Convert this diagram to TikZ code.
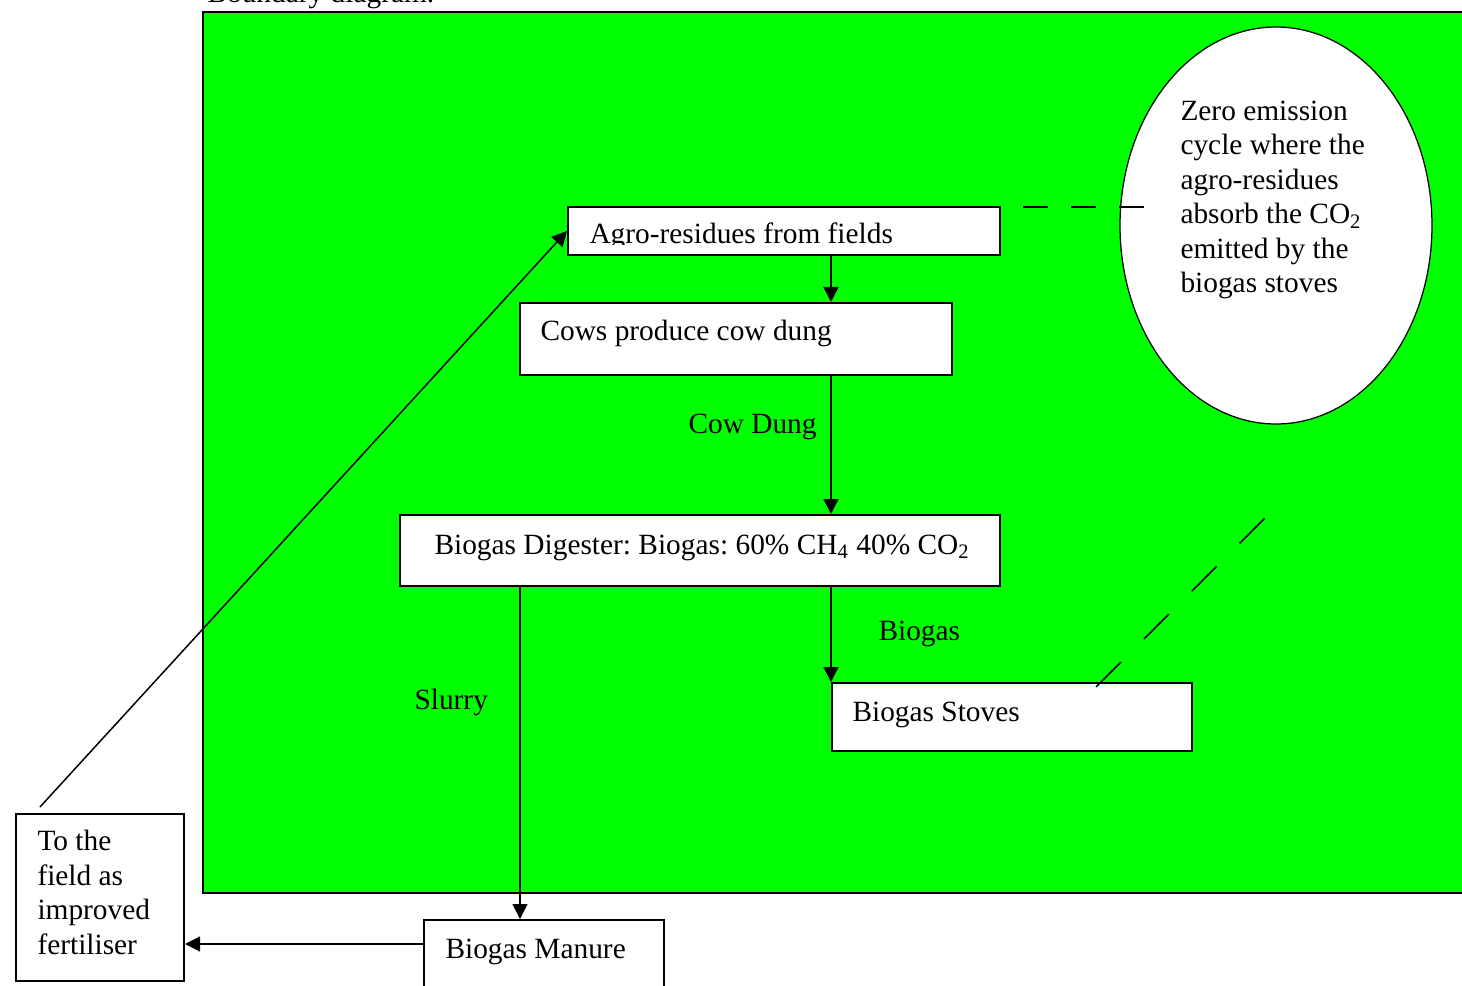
\documentclass[tikz,border=0pt]{standalone}
\usepackage{fontspec}
\setmainfont{Liberation Serif}
\usetikzlibrary{arrows.meta,fit,shapes.geometric}
\definecolor{bgreen}{HTML}{00FF00}
\frenchspacing
\begin{document}
\begin{tikzpicture}[x=0.4pt,y=-0.4pt,
  every node/.style={font=\fontsize{11.75}{13.8}\selectfont},
  box/.style={draw=black,line width=0.8pt,fill=white,inner sep=0pt,rectangle},
  lbl/.style={anchor=base west,inner sep=0pt,align=left},
  conn/.style={line width=0.6pt},
  arr/.style={conn,-{Triangle[length=6pt,width=6pt]}},
  dshA/.style={line width=0.6pt,dash pattern=on 10pt off 9.2pt},
  dshB/.style={line width=0.6pt,dash pattern=on 14.1pt off 13pt}
]
\useasboundingbox (0,0) rectangle (1462,986);
\fill[white] (0,0) rectangle (1462,986);
% title (cut by page top)
\node[lbl] (title) at (207,3) {Boundary diagram.};
% boundary
\node[draw=black,line width=0.8pt,fill=bgreen,inner sep=0pt,fit={(203,12)(1475,893)}] (bound) {};

% boxes
\node[box,fit={(568,207)(1000,255)}] (agro) {};
\begin{scope}
  \clip (568,207) rectangle (1000,245);
  \node[lbl] (agrot) at (589,244) {Agro-residues from fields};
\end{scope}
\node[box,fit={(520,303)(952,375)}] (cows) {};
\node[lbl] (cowst) at (540,341) {Cows produce cow dung};
\node[box,fit={(400,515)(1000,586)}] (dig) {};
\node[lbl] (digt) at (434,554) {Biogas Digester: Biogas: 60\% CH\textsubscript{4} 40\% CO\textsubscript{2}};
\node[box,fit={(832,683)(1192,751)}] (stove) {};
\node[lbl] (stovet) at (852,721) {Biogas Stoves};
\node[box,fit={(424,920)(664,1005)}] (manure) {};
\node[lbl] (manuret) at (445,958) {Biogas Manure};
\node[box,fit={(16,814)(184,981)}] (fert) {};
\node[lbl] (fertt) at (37,954) {To the\\field as\\improved\\fertiliser};

% ellipse
\node[draw=black,line width=0.5pt,fill=white,ellipse,inner sep=0pt,
      minimum width=124.8pt,minimum height=158.8pt] (ell) at (1276,225.5) {};
\node[lbl] (ellt) at (1180,293) {Zero emission\\cycle where the\\agro-residues\\absorb the CO\textsubscript{2}\\emitted by the\\biogas stoves};

% labels
\node[lbl] (lcow) at (688,433) {Cow Dung};
\node[lbl] (lbio) at (878,640) {Biogas};
\node[lbl] (lslu) at (414,709) {Slurry};

% connectors
\coordinate (colA) at (831,0);
\coordinate (colB) at (520,0);
\coordinate (rowM) at (0,944);
\coordinate (fstart) at (40,807);
\draw[arr] (agro.south -| colA) -- (cows.north -| colA);
\draw[arr] (cows.south -| colA) -- (dig.north -| colA);
\draw[arr] (dig.south -| colA) -- (stove.north -| colA);
\draw[arr] (dig.south -| colB) -- (manure.north -| colB);
\draw[arr] (manure.west |- rowM) -- (fert.east |- rowM);
\draw[arr] (fstart) -- (agro.west);

% dashed links
\coordinate (dA1) at (1023,207);
\coordinate (dA2) at (1145,207);
\coordinate (dB1) at (1096,687);
\coordinate (dB2) at (1265,518);
\draw[dshA] (dA1) -- (dA2);
\draw[dshB] (dB1) -- (dB2);
\end{tikzpicture}
\end{document}
